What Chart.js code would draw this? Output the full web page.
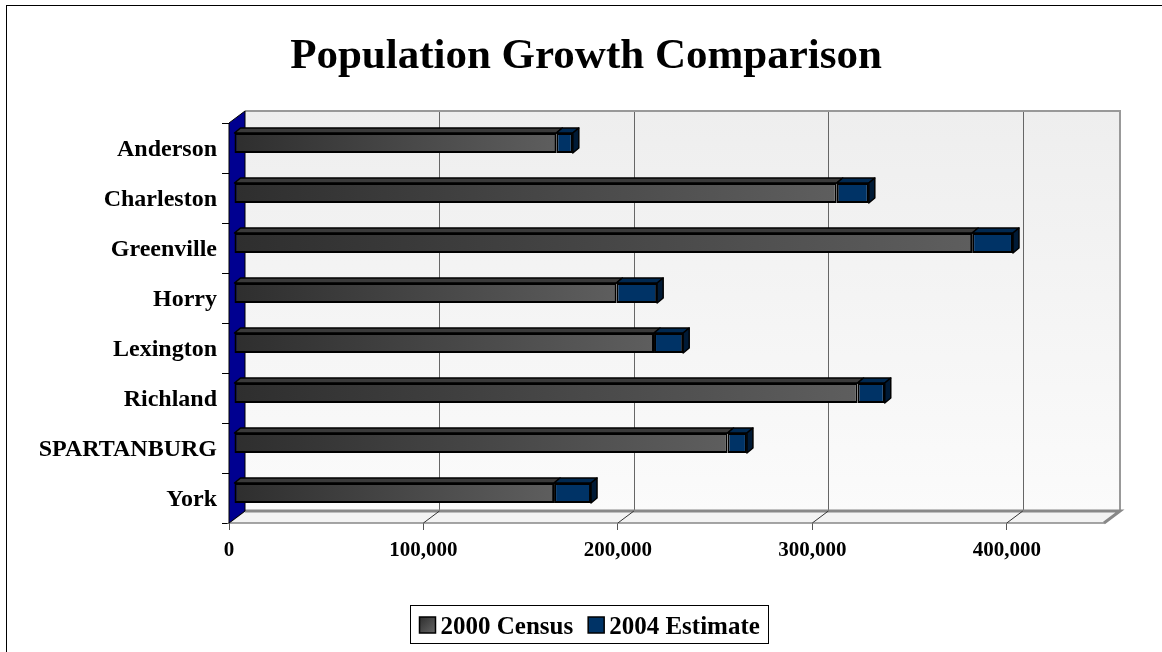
<!DOCTYPE html>
<html>
<head>
<meta charset="utf-8">
<title>Population Growth Comparison</title>
<script src="https://cdn.jsdelivr.net/npm/chart.js@4.4.1/dist/chart.umd.min.js"></script>
<style>
  html, body { margin: 0; padding: 0; background: #fff; }
  #wrap { width: 1162px; height: 652px; }
</style>
</head>
<body>
<div id="wrap"><canvas id="popChart" width="1162" height="652"></canvas></div>
<script>
// Chart data
const chartTitle = 'Population Growth Comparison';
const counties = ['Anderson', 'Charleston', 'Greenville', 'Horry', 'Lexington', 'Richland', 'SPARTANBURG', 'York'];
const census2000 = [165740, 309969, 379616, 196629, 216014, 320677, 253791, 164614];
// growth up to the 2004 estimate, stacked on top of the census bar
const estimate2004 = [8500, 16500, 21000, 21000, 15000, 14000, 10000, 19000];
const xTicks = [0, 100000, 200000, 300000, 400000];
const xMax = 450000;

const SERIF = "'Liberation Serif', 'Times New Roman', serif";
const WALL_DX = 16, WALL_DY = 12;   // back wall offset from the front plane
const BAR_DX = 6, BAR_DY = 5;       // bar depth
const SHIFT = 5;                    // bars sit a bit behind the front plane

// gray bars get a left-to-right gradient along their own length
function censusFill(context) {
    const chart = context.chart;
    if (!chart.chartArea) return '#444';
    const x = chart.scales.x;
    const g = chart.ctx.createLinearGradient(x.getPixelForValue(0), 0, x.getPixelForValue(context.raw), 0);
    g.addColorStop(0, '#2e2e2e');
    g.addColorStop(1, '#5e5e5e');
    return g;
}

function poly(ctx, pts) {
    ctx.beginPath();
    ctx.moveTo(pts[0][0], pts[0][1]);
    for (let i = 1; i < pts.length; i++) ctx.lineTo(pts[i][0], pts[i][1]);
    ctx.closePath();
}

// Walls, floor, 3D bar faces, title, legend and frame
const box3d = {
    id: 'box3d',
    beforeDatasetsDraw(chart) {
        const { ctx, chartArea: a, scales: { x } } = chart;
        const l = a.left, r = a.right, t = a.top, b = a.bottom;
        ctx.save();

        // back wall
        const g = ctx.createLinearGradient(0, t - WALL_DY, 0, b - WALL_DY);
        g.addColorStop(0, '#eeeeee');
        g.addColorStop(1, '#fbfbfb');
        ctx.fillStyle = g;
        ctx.fillRect(l + WALL_DX, t - WALL_DY, r - l, b - t);

        ctx.strokeStyle = '#666';
        ctx.lineWidth = 1;
        xTicks.slice(1).forEach(v => {
            const px = Math.round(x.getPixelForValue(v) + WALL_DX) + 0.5;
            ctx.beginPath();
            ctx.moveTo(px, t - WALL_DY);
            ctx.lineTo(px, b - WALL_DY);
            ctx.stroke();
        });

        ctx.strokeStyle = '#999';
        ctx.lineWidth = 2;
        ctx.beginPath();
        ctx.moveTo(l + WALL_DX, t - WALL_DY);
        ctx.lineTo(r + WALL_DX, t - WALL_DY);
        ctx.lineTo(r + WALL_DX, b - WALL_DY);
        ctx.stroke();

        // floor
        poly(ctx, [[l, b], [l + WALL_DX, b - WALL_DY], [r + WALL_DX, b - WALL_DY], [r, b]]);
        ctx.fillStyle = '#f3f3f3';
        ctx.fill();
        ctx.strokeStyle = '#888';
        ctx.lineWidth = 1.5;
        ctx.stroke();
        ctx.lineWidth = 3;
        ctx.beginPath();
        ctx.moveTo(l + WALL_DX, b - WALL_DY);
        ctx.lineTo(r + WALL_DX, b - WALL_DY);
        ctx.lineTo(r, b);
        ctx.stroke();

        ctx.strokeStyle = '#333';
        ctx.lineWidth = 1;
        xTicks.slice(1).forEach(v => {
            const px = x.getPixelForValue(v);
            ctx.beginPath();
            ctx.moveTo(px, b);
            ctx.lineTo(px + WALL_DX, b - WALL_DY);
            ctx.stroke();
        });

        // left wall
        poly(ctx, [[l, t], [l + WALL_DX, t - WALL_DY], [l + WALL_DX, b - WALL_DY], [l, b]]);
        ctx.fillStyle = '#000090';
        ctx.fill();
        ctx.strokeStyle = '#000';
        ctx.lineWidth = 1;
        ctx.stroke();
        ctx.restore();

        // push the bars back a little
        ctx.save();
        ctx.translate(SHIFT, -SHIFT);
    },
    afterDatasetsDraw(chart) {
        const ctx = chart.ctx;
        const last = chart.data.datasets.length - 1;
        chart.data.datasets.forEach((ds, di) => {
            chart.getDatasetMeta(di).data.forEach(bar => {
                const top = bar.y - bar.height / 2;
                const bot = bar.y + bar.height / 2;
                ctx.lineWidth = 1.5;
                ctx.strokeStyle = '#000';
                ctx.lineJoin = 'round';
                poly(ctx, [[bar.base, top], [bar.base + BAR_DX, top - BAR_DY], [bar.x + BAR_DX, top - BAR_DY], [bar.x, top]]);
                ctx.fillStyle = ds.topColor;
                ctx.fill();
                ctx.stroke();
                if (di === last) {
                    poly(ctx, [[bar.x, top], [bar.x + BAR_DX, top - BAR_DY], [bar.x + BAR_DX, bot - BAR_DY], [bar.x, bot]]);
                    ctx.fillStyle = ds.sideColor;
                    ctx.fill();
                    ctx.stroke();
                }
            });
        });
        ctx.restore();
    },
    afterDraw(chart) {
        const ctx = chart.ctx;
        ctx.save();

        // outer frame (cut off on the right and bottom)
        ctx.strokeStyle = '#000';
        ctx.lineWidth = 1;
        ctx.strokeRect(6.5, 5.5, 1200, 700);

        // title
        ctx.fillStyle = '#000';
        ctx.font = 'bold 43px ' + SERIF;
        ctx.textAlign = 'center';
        ctx.textBaseline = 'alphabetic';
        ctx.fillText(chartTitle, 586, 68);

        // legend
        ctx.textAlign = 'left';
        ctx.font = 'bold 25px ' + SERIF;
        const sw = 16, gapIn = 5, gapOut = 15, pad = 9;
        const items = chart.data.datasets.map(ds => ({ label: ds.label, w: ctx.measureText(ds.label).width, ds }));
        let total = pad * 2 - gapOut;
        items.forEach(it => { total += sw + gapIn + it.w + gapOut; });
        const cx = 589;
        const bx = Math.round(cx - total / 2) + 0.5;
        ctx.strokeRect(bx, 605.5, Math.round(total), 38);
        let xx = bx + pad;
        items.forEach(it => {
            if (it.ds.legendGradient) {
                const g = ctx.createLinearGradient(xx, 617, xx + sw, 633);
                g.addColorStop(0, '#2e2e2e');
                g.addColorStop(1, '#666');
                ctx.fillStyle = g;
            } else {
                ctx.fillStyle = it.ds.backgroundColor;
            }
            ctx.fillRect(xx, 617, sw, sw);
            ctx.lineWidth = 1.5;
            ctx.strokeRect(xx, 617, sw, sw);
            xx += sw + gapIn;
            ctx.fillStyle = '#000';
            ctx.fillText(it.label, xx, 634);
            xx += it.w + gapOut;
        });
        ctx.restore();
    }
};

const ctx = document.getElementById('popChart').getContext('2d');
new Chart(ctx, {
    type: 'bar',
    data: {
        labels: counties,
        datasets: [{
            label: '2000 Census',
            data: census2000,
            backgroundColor: censusFill,
            topColor: '#3a3a3a',
            legendGradient: true,
            borderColor: '#000',
            borderWidth: 2,
            borderSkipped: false,
            barPercentage: 0.4,
            categoryPercentage: 1.0,
            clip: false
        }, {
            label: '2004 Estimate',
            data: estimate2004,
            backgroundColor: '#003366',
            topColor: '#002850',
            sideColor: '#001a36',
            borderColor: '#000',
            borderWidth: 2,
            borderSkipped: false,
            barPercentage: 0.4,
            categoryPercentage: 1.0,
            clip: false
        }]
    },
    options: {
        indexAxis: 'y',
        responsive: false,
        animation: false,
        layout: { padding: { left: 0, right: 58, top: 123, bottom: 0 } },
        scales: {
            x: {
                stacked: true,
                min: 0,
                max: xMax,
                afterFit(scale) { scale.height = 129; },
                afterBuildTicks(scale) { scale.ticks = xTicks.map(v => ({ value: v })); },
                grid: { drawOnChartArea: false, drawTicks: true, tickLength: 7, color: '#555' },
                border: { display: false },
                ticks: {
                    padding: 8,
                    color: '#000',
                    font: { family: SERIF, size: 21, weight: 'bold' },
                    callback: v => v.toLocaleString('en-US')
                }
            },
            y: {
                stacked: true,
                afterFit(scale) { scale.width = 229; },
                grid: { drawOnChartArea: false, drawTicks: true, tickLength: 7, color: '#000', offset: true },
                border: { display: true, color: '#000' },
                ticks: {
                    padding: 5,
                    labelOffset: 2,
                    color: '#000',
                    font: { family: SERIF, size: 24, weight: 'bold' }
                }
            }
        },
        plugins: {
            legend: { display: false },
            tooltip: { enabled: false },
            title: { display: false }
        }
    },
    plugins: [box3d]
});
</script>
</body>
</html>
